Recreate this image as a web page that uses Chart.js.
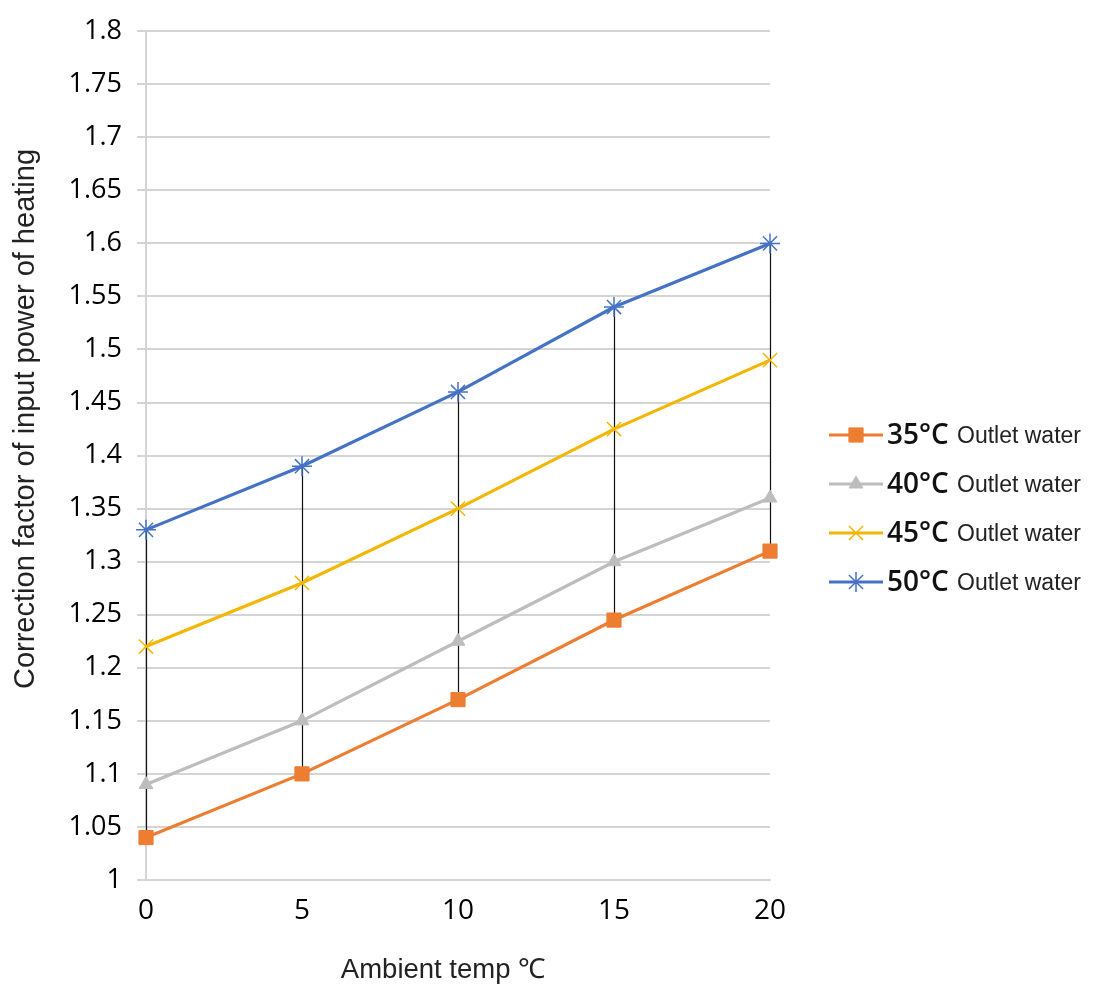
<!DOCTYPE html>
<html>
<head>
<meta charset="utf-8">
<script src="https://cdn.jsdelivr.net/npm/chart.js@4"></script>
<style>
  html, body { margin: 0; padding: 0; background: #ffffff; }
  #wrap { width: 1096px; height: 987px; }
</style>
</head>
<body>
<div id="wrap"><canvas id="factorChart" width="1096" height="987"></canvas></div>
<script>
// Ambient temperature categories (x axis)
const ambientTemps = ['0', '5', '10', '15', '20'];

// Correction factor per outlet water temperature
const outlet35 = [1.04, 1.10, 1.17, 1.245, 1.31];
const outlet40 = [1.09, 1.15, 1.225, 1.30, 1.36];
const outlet45 = [1.22, 1.28, 1.35, 1.425, 1.49];
const outlet50 = [1.33, 1.39, 1.46, 1.54, 1.60];

const seriesNames = ['35°C', '40°C', '45°C', '50°C'];
const seriesSuffix = 'Outlet water';

// y axis range
const yMin = 1;
const yMax = 1.8;
const yStep = 0.05;

const xTitle = 'Ambient temp ℃';
const yTitle = 'Correction factor of input power of heating';

const colors = ['#ED7D31', '#BDBDBD', '#F2B705', '#4472C4'];
const pointStyles = ['rect', 'triangle', 'crossRot', 'star'];
const pointRadii = [10, 8, 10, 10];

function makeDataset(idx, values) {
  return {
    label: seriesNames[idx] + ' ' + seriesSuffix,
    data: values,
    borderColor: colors[idx],
    backgroundColor: colors[idx],
    borderWidth: 3.2,
    pointStyle: pointStyles[idx],
    pointRadius: pointRadii[idx],
    pointBorderWidth: (idx >= 2) ? 1.5 : 1,
    pointBackgroundColor: colors[idx],
    pointBorderColor: colors[idx],
    tension: 0
  };
}

// High-low lines between top and bottom series at each category
const dropLines = {
  id: 'dropLines',
  beforeDatasetsDraw(chart) {
    const ctx = chart.ctx;
    const xs = chart.scales.x;
    const ys = chart.scales.y;
    const sets = chart.data.datasets;
    ctx.save();
    ctx.strokeStyle = '#111111';
    ctx.lineWidth = 1.2;
    for (let i = 0; i < ambientTemps.length; i++) {
      const vals = sets.map(d => d.data[i]);
      const x = Math.round(xs.getPixelForValue(i)) + 0.5;
      ctx.beginPath();
      ctx.moveTo(x, ys.getPixelForValue(Math.max(...vals)));
      ctx.lineTo(x, ys.getPixelForValue(Math.min(...vals)));
      ctx.stroke();
    }
    ctx.restore();
  }
};

// Axis titles placed where the original has them
const axisTitles = {
  id: 'axisTitles',
  afterDraw(chart) {
    const ctx = chart.ctx;
    ctx.save();
    ctx.fillStyle = '#222222';
    ctx.textAlign = 'center';
    ctx.textBaseline = 'middle';
    ctx.font = '29px "Liberation Sans", Arial, sans-serif';
    ctx.translate(26, 419);
    ctx.rotate(-Math.PI / 2);
    ctx.fillText(yTitle, 0, 0);
    ctx.restore();

    ctx.save();
    ctx.fillStyle = '#222222';
    ctx.textAlign = 'center';
    ctx.textBaseline = 'middle';
    ctx.font = '27.5px "Liberation Sans", Arial, sans-serif';
    ctx.fillText(xTitle, 443, 970);
    ctx.restore();
  }
};

// Legend on the right with big temperature and small suffix
const sideLegend = {
  id: 'sideLegend',
  afterDraw(chart) {
    const ctx = chart.ctx;
    const sets = chart.data.datasets;
    const lineX1 = 829, lineX2 = 883;
    const top = 435, gap = 49;
    sets.forEach((ds, i) => {
      const y = top + i * gap;
      ctx.save();
      ctx.strokeStyle = colors[i];
      ctx.lineWidth = 3;
      ctx.beginPath();
      ctx.moveTo(lineX1, y);
      ctx.lineTo(lineX2, y);
      ctx.stroke();
      ctx.fillStyle = colors[i];
      ctx.strokeStyle = colors[i];
      ctx.lineWidth = ds.pointBorderWidth;
      if (Chart.helpers && Chart.helpers.drawPoint) {
        Chart.helpers.drawPoint(ctx, {
          pointStyle: pointStyles[i],
          radius: pointRadii[i],
          rotation: 0,
          borderWidth: ds.pointBorderWidth
        }, (lineX1 + lineX2) / 2, y);
      }
      ctx.restore();

      ctx.save();
      ctx.fillStyle = '#111111';
      ctx.textAlign = 'left';
      ctx.textBaseline = 'middle';
      ctx.font = '600 28px "Open Sans", sans-serif';
      ctx.fillText(seriesNames[i], 887, y + 1);
      ctx.font = '23px "Liberation Sans", Arial, sans-serif';
      ctx.fillStyle = '#222222';
      ctx.fillText(seriesSuffix, 957, y + 2);
      ctx.restore();
    });
  }
};

const ctx = document.getElementById('factorChart').getContext('2d');
new Chart(ctx, {
  type: 'line',
  data: {
    labels: ambientTemps,
    datasets: [
      makeDataset(0, outlet35),
      makeDataset(1, outlet40),
      makeDataset(2, outlet45),
      makeDataset(3, outlet50)
    ]
  },
  options: {
    responsive: false,
    animation: false,
    layout: {
      padding: { left: 0, right: 326, top: 28, bottom: 0 }
    },
    plugins: {
      legend: { display: false },
      tooltip: { enabled: false }
    },
    scales: {
      x: {
        offset: false,
        grid: { display: false, drawTicks: false, tickLength: 0 },
        border: { display: true, color: '#d4d4d4', width: 2 },
        ticks: {
          color: '#000000',
          padding: 14,
          maxRotation: 0,
          font: { family: '"Open Sans", sans-serif', size: 28 }
        },
        afterFit(scale) { scale.height = 107; }
      },
      y: {
        min: yMin,
        max: yMax,
        grid: { color: '#d4d4d4', lineWidth: 2, tickLength: 9 },
        border: { display: true, color: '#d4d4d4', width: 2 },
        ticks: {
          stepSize: yStep,
          color: '#000000',
          padding: 15,
          font: { family: '"Open Sans", sans-serif', size: 27 },
          callback: (value) => String(Number(value.toFixed(2)))
        },
        afterFit(scale) { scale.width = 146; }
      }
    }
  },
  plugins: [dropLines, axisTitles, sideLegend]
});
</script>
</body>
</html>
